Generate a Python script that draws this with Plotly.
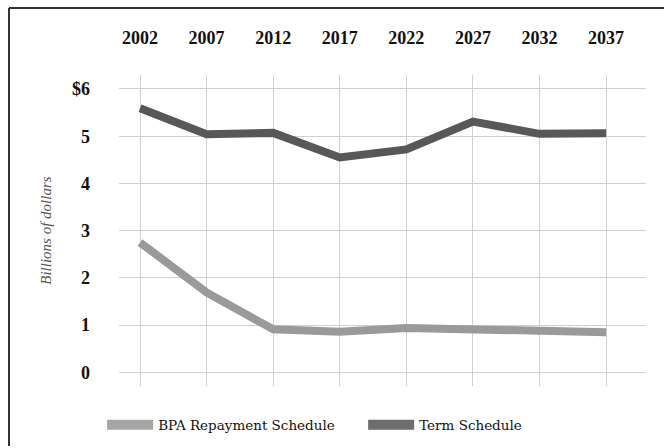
import plotly.graph_objects as go

# Debt outstanding, billions of dollars
years = [2002, 2007, 2012, 2017, 2022, 2027, 2032, 2037]
bpa_repayment = [2.75, 1.69, 0.91, 0.86, 0.94, 0.91, 0.87, 0.85]
term_schedule = [5.59, 5.04, 5.07, 4.55, 4.72, 5.31, 5.05, 5.06]

y_ticks = [0, 1, 2, 3, 4, 5, 6]
y_tick_labels = ["0", "1", "2", "3", "4", "5", "$6"]

series = [
    ("BPA Repayment Schedule", bpa_repayment, "#9a9a9a", "#a6a6a6"),
    ("Term Schedule", term_schedule, "#585858", "#6e6e6e"),
]

fig = go.Figure()
for name, values, color, legend_color in series:
    fig.add_trace(go.Scatter(
        x=years, y=values, mode="lines", name=name,
        line=dict(color=color, width=8), showlegend=False,
    ))
    # legend entry with a slightly lighter, thicker swatch
    fig.add_trace(go.Scatter(
        x=[None], y=[None], mode="lines", name=name,
        line=dict(color=legend_color, width=11), showlegend=True,
    ))

tick_font = dict(family="Liberation Serif", size=18, color="#111", weight="bold")

fig.update_layout(
    width=666, height=448,
    margin=dict(l=119, r=20, t=75, b=62, autoexpand=False),
    paper_bgcolor="white", plot_bgcolor="white",
    showlegend=True,
    legend=dict(
        orientation="h", x=-0.032, y=-0.125, xanchor="left", yanchor="middle",
        font=dict(family="DejaVu Serif", size=13.5, color="#111"),
        itemwidth=46, entrywidth=200, entrywidthmode="pixels",
        tracegroupgap=0, bgcolor="rgba(0,0,0,0)",
    ),
    xaxis=dict(
        side="top", range=[2000.42, 2040.0],
        tickvals=years, ticktext=[str(y) for y in years],
        showgrid=True, gridcolor="#d0d0d0", gridwidth=1,
        zeroline=False, showline=False, ticks="",
        ticklabelstandoff=26, tickfont=tick_font,
    ),
    yaxis=dict(
        range=[-0.29, 6.296],
        tickvals=y_ticks, ticktext=y_tick_labels,
        showgrid=True, gridcolor="#d0d0d0", gridwidth=1,
        zeroline=False, showline=False, ticks="",
        ticklabelstandoff=28, tickfont=tick_font,
    ),
    annotations=[dict(
        text="Billions of dollars", textangle=-90,
        xref="paper", yref="paper", x=-0.14, y=0.5,
        xanchor="center", yanchor="middle", showarrow=False,
        font=dict(family="Liberation Serif", size=15, color="#555", style="italic"),
    )],
    # page frame: top and left edges, kept inside the page
    shapes=[
        dict(type="line", xref="paper", yref="paper",
             x0=-0.2087, x1=1.0342, y0=1.2154, y1=1.2154,
             line=dict(color="#333", width=2), layer="above"),
        dict(type="line", xref="paper", yref="paper",
             x0=-0.2087, x1=-0.2087, y0=-0.1929, y1=1.2154,
             line=dict(color="#333", width=2), layer="above"),
    ],
)

fig.write_html("out.html")
